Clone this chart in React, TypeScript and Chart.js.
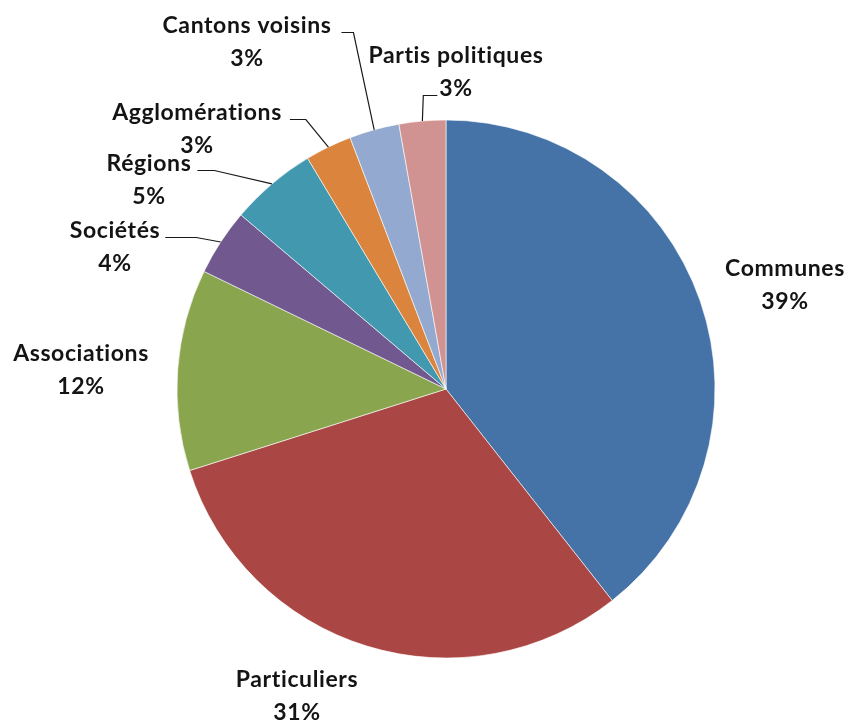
import React, { useEffect, useRef } from "react";
import { Chart, registerables } from "chart.js";

Chart.register(...registerables);

const categories = [
  "Communes",
  "Particuliers",
  "Associations",
  "Sociétés",
  "Régions",
  "Agglomérations",
  "Cantons voisins",
  "Partis politiques",
];
const values = [39.4, 30.7, 12.1, 4.0, 5.2, 2.8, 3.0, 2.8];
const colors = [
  "#4572A7",
  "#AA4643",
  "#89A54E",
  "#71588F",
  "#4198AF",
  "#DB843D",
  "#93A9CF",
  "#D19392",
];

// label layout: block centre relative to pie centre (px), and optional leader line
type Leader = { side: "left" | "right"; line: number; gap: number; len: number } | null;
const labelLayout: { dx: number; dy: number; leader: Leader }[] = [
  { dx: 339, dy: -104, leader: null },
  { dx: -149, dy: 307, leader: null },
  { dx: -365, dy: -19, leader: null },
  { dx: -331, dy: -142, leader: { side: "right", line: 0, gap: 5, len: 31 } },
  { dx: -297, dy: -209, leader: { side: "right", line: 0, gap: 6, len: 17 } },
  { dx: -249, dy: -260, leader: { side: "right", line: 0, gap: 8, len: 16 } },
  { dx: -199, dy: -347, leader: { side: "right", line: 0, gap: 10, len: 12 } },
  { dx: 10, dy: -317, leader: { side: "left", line: 1, gap: 2, len: 14 } },
];

const FONT = "bold 23px Lato, 'Open Sans', sans-serif";
const LINE_H = 33;

const labelPlugin = {
  id: "pieLabels",
  afterDraw(chart: any) {
    const ctx = chart.ctx;
    const meta = chart.getDatasetMeta(0);
    const data = chart.data.datasets[0].data as number[];
    const total = data.reduce((a, b) => a + b, 0);
    ctx.save();
    ctx.font = FONT;
    try {
      (ctx as any).letterSpacing = "0.6px";
    } catch (e) {}
    ctx.fillStyle = "#141414";
    ctx.textAlign = "center";
    ctx.textBaseline = "middle";
    meta.data.forEach((arc: any, i: number) => {
      const { x, y, startAngle, endAngle, outerRadius } = arc.getProps(
        ["x", "y", "startAngle", "endAngle", "outerRadius"],
        true
      );
      const lay = labelLayout[i];
      const cx = x + lay.dx;
      const cy = y + lay.dy;
      const lines = [
        chart.data.labels[i],
        Math.round((data[i] / total) * 100) + "%",
      ];
      lines.forEach((t: string, k: number) => {
        ctx.fillText(t, cx, cy + (k - 0.5) * LINE_H);
      });
      if (lay.leader) {
        const L = lay.leader;
        const w = ctx.measureText(lines[L.line]).width;
        const ly = cy + (L.line - 0.5) * LINE_H + 7;
        const ax = L.side === "right" ? cx + w / 2 + L.gap : cx - w / 2 - L.gap;
        const ex = L.side === "right" ? ax + L.len : ax - L.len;
        const mid = (startAngle + endAngle) / 2;
        const px = x + Math.cos(mid) * outerRadius;
        const py = y + Math.sin(mid) * outerRadius;
        ctx.beginPath();
        ctx.strokeStyle = "#1a1a1a";
        ctx.lineWidth = 1.2;
        ctx.moveTo(ax, ly);
        ctx.lineTo(ex, ly);
        ctx.lineTo(px, py);
        ctx.stroke();
      }
    });
    ctx.restore();
  },
};

export default function App() {
  const ref = useRef<HTMLCanvasElement | null>(null);
  useEffect(() => {
    document.body.style.margin = "0";
    const chart = new Chart(ref.current as HTMLCanvasElement, {
      type: "pie",
      data: {
        labels: categories,
        datasets: [
          {
            data: values,
            backgroundColor: colors,
            borderColor: "rgba(255,255,255,0.6)",
            borderWidth: 1,
            radius: 269,
          } as any,
        ],
      },
      options: {
        animation: false,
        responsive: false,
        layout: { padding: { left: 177, right: 139, top: 120, bottom: 65 } },
        plugins: {
          legend: { display: false },
          tooltip: { enabled: false },
        },
      },
      plugins: [labelPlugin],
    });
    return () => chart.destroy();
  }, []);
  return (
    <div style={{ width: 854, height: 723, background: "#fff" }}>
      <canvas ref={ref} width={854} height={723} />
    </div>
  );
}
